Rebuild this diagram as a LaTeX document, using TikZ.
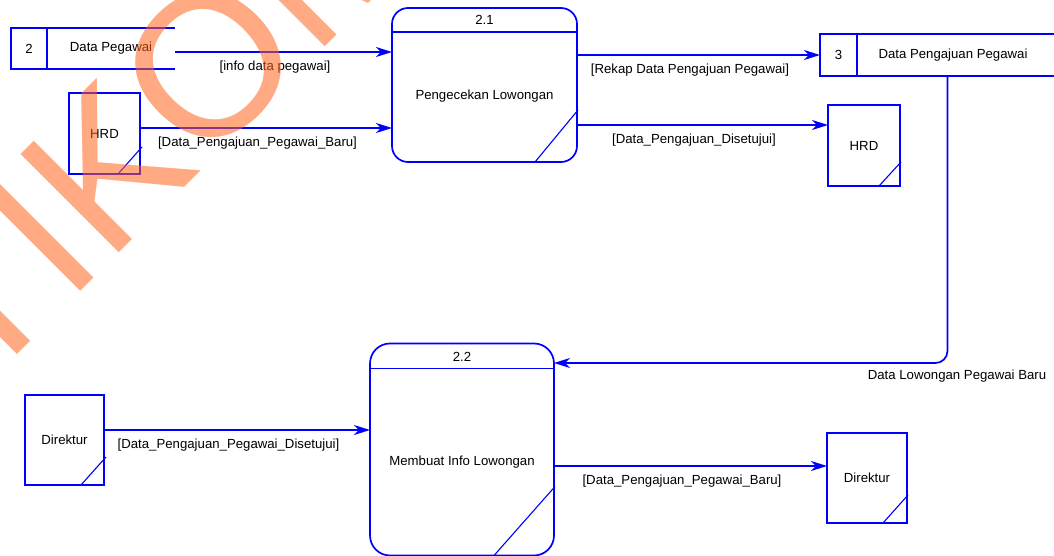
\documentclass[tikz,border=0pt]{standalone}
\usepackage{fontspec}
\setmainfont{Liberation Sans}
\usetikzlibrary{shapes,positioning,arrows.meta}

\definecolor{dfdblue}{RGB}{0,0,255}
\definecolor{wmorange}{RGB}{255,100,30}

\tikzset{
  dfdline/.style={draw=dfdblue, line width=1.7pt},
  corner/.style={draw=dfdblue, line width=1.1pt},
  flow/.style={dfdline, -{Stealth[length=16pt,width=10pt,inset=5pt]}},
  entity/.style={draw=dfdblue, line width=1.7pt, inner sep=0pt, outer sep=0pt, font=\fontsize{13.2}{15}\selectfont},
  storeno/.style={entity},
  proc/.style={draw=dfdblue, line width=1.7pt, inner sep=0pt, outer sep=0pt},
  txt/.style={font=\fontsize{13.2}{15}\selectfont, inner sep=0pt},
  lbl/.style={txt, xshift=-8.5pt, yshift=-15.5pt},
  watermark/.style={rotate=45, anchor=base west, inner sep=0pt, text=wmorange,
    text opacity=0.55, font=\fontsize{202}{202}\selectfont}
}

\begin{document}
\begin{tikzpicture}[x=1pt,y=-1pt]
\useasboundingbox (0,0) rectangle (1054,556);

% data store 2
\node[storeno, minimum width=36pt, minimum height=41pt] (ds2) at (29,48.5) {2};
\draw[dfdline] (ds2.north east) -- ++(128,0);
\draw[dfdline] (ds2.south east) -- ++(128,0);
\node[txt] (ds2name) at (111,48) {Data Pegawai};
\coordinate (ds2out) at (175,52);

% external entities
\node[entity, minimum width=71pt, minimum height=81pt] (hrd1) at (104.5,133.5) {HRD};
\node[entity, minimum width=72pt, minimum height=81pt] (hrd2) at (864,145.5) {HRD};
\node[entity, minimum width=79pt, minimum height=90pt] (dir1) at (64.5,440) {Direktur};
\node[entity, minimum width=80pt, minimum height=90pt] (dir2) at (867,478) {Direktur};
\draw[corner] ([xshift=-22pt]hrd1.south east) -- ([xshift=2pt,yshift=27pt]hrd1.south east);
\draw[corner] ([xshift=-21pt]hrd2.south east) -- ([xshift=1pt,yshift=24pt]hrd2.south east);
\draw[corner] ([xshift=-23pt]dir1.south east) -- ([xshift=2pt,yshift=28pt]dir1.south east);
\draw[corner] ([xshift=-24pt]dir2.south east) -- ([xshift=1pt,yshift=28pt]dir2.south east);

% process 2.1
\node[proc, rounded corners=16pt, minimum width=185pt, minimum height=154pt] (p21) at (484.5,85) {};
\draw[dfdline] ([yshift=-24pt]p21.north west) -- ([yshift=-24pt]p21.north east);
\node[txt] (p21no) at (484.5,20) {2.1};
\node[txt] (p21name) at (484.5,96) {Pengecekan Lowongan};
\draw[corner] ([xshift=-42pt]p21.south east) -- ([xshift=1pt,yshift=52pt]p21.south east);

% data store 3
\node[storeno, minimum width=37pt, minimum height=42pt] (ds3) at (838.5,55) {3};
\draw[dfdline] (ds3.north east) -- ++(200,0);
\draw[dfdline] (ds3.south east) -- ++(200,0);
\node[txt] (ds3name) at (953,55) {Data Pengajuan Pegawai};
\coordinate (ds3out) at (947.5,76);

% process 2.2
\node[proc, rounded corners=20pt, minimum width=184pt, minimum height=212pt] (p22) at (462,449.5) {};
\draw[dfdline] ([yshift=-25pt]p22.north west) -- ([yshift=-25pt]p22.north east);
\node[txt] (p22no) at (462,357) {2.2};
\node[txt] (p22name) at (462,462) {Membuat Info Lowongan};
\draw[corner] ([xshift=-60pt]p22.south east) -- ([xshift=1pt,yshift=69pt]p22.south east);

% data flows
\coordinate (hrd1out) at ([yshift=5.5pt]hrd1.east);
\coordinate (hrd2in) at ([yshift=20.5pt]hrd2.west);
\coordinate (dir1out) at ([yshift=10pt]dir1.east);
\coordinate (dir2in) at ([yshift=12pt]dir2.west);
\coordinate (p22in) at ([yshift=86.5pt]p22.east);

\draw[flow] (ds2out) -- (p21.west |- ds2out) node[lbl, midway] {[info data pegawai]};
\draw[flow] (hrd1out) -- (p21.west |- hrd1out) node[lbl, midway] {[Data\_Pengajuan\_Pegawai\_Baru]};
\draw[flow] (p21.east |- ds3.west) -- (ds3.west) node[lbl, midway] {[Rekap Data Pengajuan Pegawai]};
\draw[flow] (p21.east |- hrd2in) -- (hrd2in) node[lbl, midway] {[Data\_Pengajuan\_Disetujui]};
\draw[flow, rounded corners=12pt] (ds3out) |- (p22in);
\node[txt] (ds3lbl) at (957,376) {Data Lowongan Pegawai Baru};
\draw[flow] (dir1out) -- (p22.west |- dir1out) node[lbl, midway] {[Data\_Pengajuan\_Pegawai\_Disetujui]};
\draw[flow] (p22.east |- dir2in) -- (dir2in) node[lbl, midway] {[Data\_Pengajuan\_Pegawai\_Baru]};

% watermark
\node[watermark] (wm) at (-115,487) {STIKOM};
\end{tikzpicture}
\end{document}
